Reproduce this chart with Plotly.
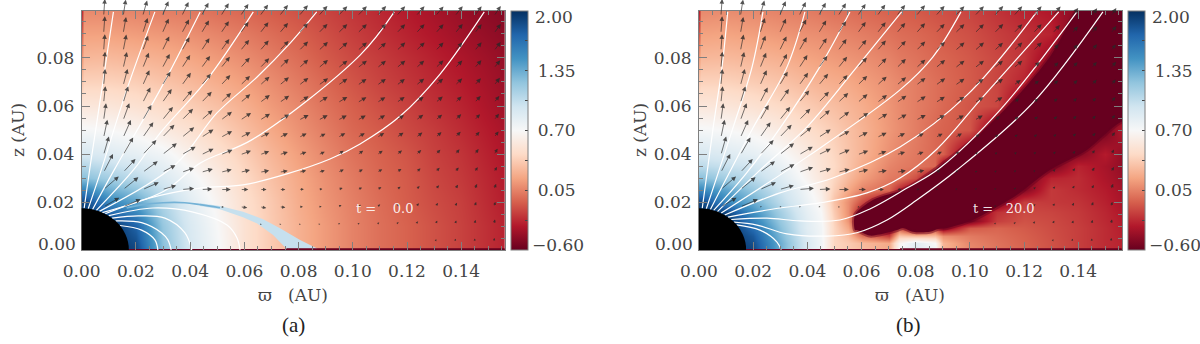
import math
import plotly.graph_objects as go

# ---- colour field, panel (a): rows go from z=0 upward
grid_x_a = [0, 0.0008, 0.01, 0.02, 0.03, 0.04, 0.05, 0.06, 0.07, 0.08, 0.09, 0.10, 0.11, 0.12, 0.13, 0.14, 0.156]
grid_z_a = [0, 0.01, 0.02, 0.03, 0.04, 0.05, 0.06, 0.07, 0.08, 0.09, 0.099]
field_a = [
    [2.0, 2.0, 2.0, 1.9, 1.25, 0.92, 0.72, 0.50, 0.36, 0.24, 0.14, 0.05, -0.02, -0.07, -0.13, -0.19, -0.30],
    [2.0, 2.0, 2.0, 1.75, 1.2, 0.9, 0.7, 0.5, 0.36, 0.24, 0.14, 0.05, -0.02, -0.07, -0.13, -0.19, -0.30],
    [1.9, 1.9, 1.55, 1.4, 1.1, 0.85, 0.66, 0.48, 0.35, 0.22, 0.12, 0.04, -0.03, -0.09, -0.15, -0.2, -0.32],
    [1.25, 1.25, 1.15, 1.05, 0.9, 0.75, 0.6, 0.44, 0.31, 0.2, 0.1, 0.02, -0.05, -0.1, -0.17, -0.22, -0.33],
    [0.92, 0.92, 0.88, 0.82, 0.75, 0.62, 0.5, 0.38, 0.26, 0.16, 0.07, -0.01, -0.07, -0.12, -0.19, -0.24, -0.35],
    [0.72, 0.72, 0.7, 0.66, 0.58, 0.5, 0.4, 0.3, 0.2, 0.11, 0.03, -0.05, -0.1, -0.16, -0.21, -0.27, -0.37],
    [0.55, 0.55, 0.54, 0.5, 0.45, 0.38, 0.31, 0.23, 0.14, 0.07, -0.01, -0.08, -0.14, -0.19, -0.25, -0.3, -0.4],
    [0.32, 0.4, 0.4, 0.38, 0.33, 0.28, 0.22, 0.16, 0.09, 0.02, -0.05, -0.12, -0.18, -0.23, -0.28, -0.33, -0.42],
    [0.1, 0.27, 0.28, 0.26, 0.23, 0.19, 0.14, 0.09, 0.03, -0.03, -0.1, -0.16, -0.21, -0.26, -0.31, -0.36, -0.44],
    [-0.1, 0.17, 0.17, 0.15, 0.13, 0.1, 0.06, 0.02, -0.03, -0.08, -0.14, -0.2, -0.25, -0.3, -0.35, -0.4, -0.47],
    [-0.3, 0.08, 0.08, 0.06, 0.04, 0.02, -0.02, -0.05, -0.09, -0.13, -0.18, -0.23, -0.28, -0.33, -0.38, -0.43, -0.5],
]

# ---- colour field, panel (b): the dark lane itself is the polygon further down
grid_x_b = [0, 0.0008, 0.01, 0.02, 0.03, 0.04, 0.045, 0.05, 0.055, 0.06, 0.07, 0.074, 0.08, 0.087, 0.09, 0.10, 0.11, 0.12, 0.13, 0.14, 0.15, 0.156]
grid_z_b = [0, 0.003, 0.006, 0.009, 0.012, 0.016, 0.02, 0.025, 0.03, 0.035, 0.04, 0.05, 0.06, 0.07, 0.08, 0.09, 0.099]
field_b = [
    [2, 2, 2, 1.9, 1.35, 0.9, 0.75, 0.42, 0.36, 0.3, 0.2, 0.7, 0.85, 0.75, 0.25, 0.08, 0, -0.06, -0.13, -0.2, -0.27, -0.3],
    [2, 2, 2, 1.85, 1.35, 0.9, 0.75, 0.42, 0.36, 0.28, 0.2, 0.65, 0.85, 0.7, 0.25, 0.06, -0.01, -0.07, -0.13, -0.2, -0.27, -0.3],
    [2, 2, 2, 1.8, 1.3, 0.88, 0.74, 0.42, 0.3, 0.0, -0.2, 0.35, 0.3, 0.3, 0.1, 0.02, -0.03, -0.08, -0.14, -0.2, -0.27, -0.31],
    [2, 2, 2, 1.7, 1.25, 0.85, 0.74, 0.42, 0.2, -0.3, -0.55, -0.1, -0.55, -0.2, -0.5, -0.1, -0.06, -0.1, -0.15, -0.2, -0.27, -0.32],
    [2, 2, 2, 1.6, 1.2, 0.85, 0.72, 0.4, 0.12, -0.55, -0.55, -0.55, -0.55, -0.55, -0.55, -0.55, -0.2, -0.13, -0.16, -0.21, -0.28, -0.33],
    [2, 2, 1.9, 1.5, 1.15, 0.82, 0.7, 0.36, 0.1, -0.4, -0.55, -0.55, -0.55, -0.55, -0.55, -0.55, -0.25, -0.16, -0.18, -0.22, -0.29, -0.35],
    [1.9, 1.9, 1.55, 1.35, 1.05, 0.78, 0.65, 0.32, 0.1, -0.15, -0.55, -0.55, -0.55, -0.55, -0.55, -0.55, -0.55, -0.2, -0.22, -0.24, -0.31, -0.37],
    [1.55, 1.55, 1.4, 1.2, 0.98, 0.74, 0.6, 0.38, 0.2, 0.05, -0.05, -0.3, -0.55, -0.55, -0.55, -0.55, -0.55, -0.5, -0.22, -0.27, -0.33, -0.39],
    [1.25, 1.25, 1.15, 1.05, 0.88, 0.66, 0.55, 0.42, 0.28, 0.16, 0.02, 0, -0.15, -0.55, -0.55, -0.55, -0.55, -0.55, -0.3, -0.27, -0.36, -0.42],
    [1.05, 1.05, 1.0, 0.95, 0.8, 0.62, 0.52, 0.44, 0.33, 0.22, 0.06, 0.03, 0, -0.05, -0.5, -0.55, -0.55, -0.55, -0.55, -0.3, -0.38, -0.45],
    [0.92, 0.92, 0.88, 0.82, 0.72, 0.58, 0.5, 0.42, 0.33, 0.25, 0.1, 0.06, 0.01, -0.05, -0.08, -0.55, -0.55, -0.55, -0.55, -0.5, -0.33, -0.45],
    [0.72, 0.72, 0.7, 0.66, 0.58, 0.47, 0.42, 0.37, 0.31, 0.25, 0.13, 0.09, 0.03, -0.05, -0.07, -0.12, -0.55, -0.55, -0.55, -0.55, -0.55, -0.34],
    [0.55, 0.55, 0.54, 0.5, 0.44, 0.37, 0.33, 0.3, 0.26, 0.22, 0.12, 0.08, 0.03, -0.02, -0.05, -0.12, -0.17, -0.55, -0.55, -0.55, -0.55, -0.55],
    [0.36, 0.4, 0.4, 0.37, 0.33, 0.27, 0.24, 0.22, 0.2, 0.16, 0.1, 0.07, 0.03, -0.02, -0.04, -0.1, -0.18, -0.3, -0.55, -0.55, -0.55, -0.55],
    [0.15, 0.27, 0.28, 0.26, 0.23, 0.18, 0.16, 0.14, 0.12, 0.1, 0.05, 0.02, -0.01, -0.05, -0.06, -0.11, -0.17, -0.24, -0.45, -0.55, -0.55, -0.55],
    [-0.1, 0.17, 0.18, 0.16, 0.13, 0.1, 0.09, 0.07, 0.05, 0.03, -0.01, -0.03, -0.05, -0.08, -0.1, -0.14, -0.2, -0.25, -0.3, -0.55, -0.55, -0.55],
    [-0.3, 0.08, 0.09, 0.08, 0.05, 0.03, 0.01, -0.01, -0.02, -0.04, -0.07, -0.08, -0.1, -0.13, -0.14, -0.18, -0.24, -0.3, -0.35, -0.5, -0.55, -0.55],
]

# dark lane of panel (b), outline (corners lie outside the frame)
lane_x = [0.0576, 0.0576, 0.0642, 0.0768, 0.0904, 0.104, 0.1173, 0.1295, 0.1395, 0.145, 0.17, 0.17, 0.1557, 0.1432, 0.1295, 0.1173, 0.101, 0.0915, 0.0882, 0.0852, 0.079, 0.0753, 0.0731, 0.0631, 0.0583, 0.0576]
lane_z = [0.0083, 0.0146, 0.0208, 0.0258, 0.0363, 0.0488, 0.0638, 0.0804, 0.0996, 0.106, 0.106, 0.058, 0.0533, 0.0417, 0.0333, 0.0229, 0.0125, 0.0092, 0.0088, 0.0076, 0.0076, 0.0092, 0.0083, 0.006, 0.0083, 0.0083]

# ---- arrows: tails sit on this grid, rows listed from the top down
arrow_x = [0.0009, 0.0081, 0.0153, 0.0225, 0.0297, 0.0369, 0.0441, 0.0513, 0.0585, 0.0657, 0.0729, 0.0801, 0.0873, 0.0945, 0.1017, 0.1089, 0.1161, 0.1233, 0.1305, 0.1377, 0.1449, 0.1521]
arrow_z = [0.0975, 0.0903, 0.0830, 0.0758, 0.0686, 0.0614, 0.0541, 0.0469, 0.0397, 0.0324, 0.0252, 0.0180, 0.0107, 0.0035]

# direction in degrees, both panels
arrow_angle = [
    [90, 86, 81, 74, 67, 64, 61, 58, 56, 54, 52, 50, 48, 46, 46, 47, 48, 49, 50, 52, 54, 56],
    [90, 86, 80, 72, 66, 62, 59, 56, 54, 52, 50, 48, 46, 44, 44, 45, 46, 47, 48, 50, 52, 54],
    [90, 86, 79, 70, 64, 60, 57, 54, 51, 49, 47, 45, 43, 41, 41, 42, 43, 44, 46, 48, 50, 53],
    [90, 85, 77, 68, 62, 57, 54, 51, 48, 46, 44, 42, 40, 38, 38, 39, 40, 42, 44, 46, 49, 52],
    [90, 85, 75, 66, 59, 54, 50, 47, 44, 42, 40, 38, 36, 35, 35, 36, 37, 39, 41, 44, 48, 52],
    [90, 84, 73, 63, 55, 50, 46, 43, 40, 37, 35, 33, 32, 31, 31, 33, 35, 37, 40, 43, 47, 52],
    [90, 82, 70, 60, 51, 45, 41, 37, 34, 32, 30, 28, 28, 28, 29, 31, 33, 36, 39, 43, 47, 52],
    [90, 78, 66, 55, 46, 39, 33, 29, 27, 26, 26, 27, 28, 30, 30, 31, 34, 37, 41, 45, 49, 53],
    [90, 74, 60, 47, 38, 30, 26, 23, 20, 20, 18, 20, 24, 35, 34, 34, 37, 41, 46, 50, 55, 60],
    [90, 63, 47, 36, 28, 19, 16, 14, 13, 10, 10, 13, 16, 24, 26, 28, 34, 40, 47, 53, 58, 62],
    [90, 41, 39, 24, 16, 5, 3, 0, 0, 0, 0, 3, 8, 18, 22, 26, 34, 42, 50, 58, 65, 70],
    [90, 30, 23, 10, 0, 0, 0, -5, -8, -10, -6, 0, 5, 25, 28, 34, 42, 50, 58, 65, 71, 75],
    [90, 0, 0, 0, 0, 0, 0, 0, 0, 0, 0, 0, 10, 25, 30, 38, 48, 58, 65, 72, 77, 80],
    [90, 0, 0, 0, 0, 0, 0, 0, 0, 0, 0, 0, 15, 30, 40, 50, 60, 70, 75, 80, 83, 85],
]
arrow_speed_a = [
    [0, 17, 16.5, 16, 16, 15.5, 15, 15, 14.5, 14, 14, 14, 13.5, 13.5, 13.5, 13.5, 13, 13, 12.5, 12.5, 12, 12],
    [0, 17, 16.5, 16, 16, 15.5, 15, 14.5, 14, 14, 13.5, 13.5, 13, 13, 13, 13, 12.5, 12.5, 12, 12, 11.5, 11.5],
    [0, 16.5, 16.5, 16, 16, 15.5, 15, 14.5, 14, 13.5, 13.5, 13, 13, 12.5, 12.5, 12, 12, 12, 11.5, 11, 11, 11],
    [0, 16.5, 16.5, 16.5, 16, 15.5, 15, 14.5, 14, 13.5, 13, 12.5, 12.5, 12, 12, 11.5, 11.5, 11, 11, 10.5, 10.5, 10],
    [0, 16.5, 17, 16.5, 16, 15.5, 15, 14, 13.5, 13, 12.5, 12, 12, 11.5, 11, 11, 10.5, 10.5, 10, 10, 9.5, 9.5],
    [0, 16.5, 17, 17, 16.5, 16, 15, 14, 13, 12.5, 12, 11.5, 11, 11, 10.5, 10, 10, 9.5, 9.5, 9, 9, 8.5],
    [0, 17, 18, 17.5, 17, 16, 15, 14, 13, 12, 11.5, 11, 10.5, 10, 9.5, 9.5, 9, 9, 8.5, 8.5, 8, 8],
    [0, 18, 19, 18.5, 17.5, 16, 14.5, 13, 11.4, 10.7, 9.5, 8.7, 8, 8.5, 8.5, 8.5, 8.5, 8, 8, 8, 7.5, 7.5],
    [0, 19, 20, 20, 18.5, 16, 13.7, 12.7, 11.4, 10, 9, 8, 7, 7, 7, 7, 7, 7, 7, 7, 7, 7],
    [0, 20.6, 18, 18.6, 15, 13, 12, 11.3, 10, 9.5, 8.5, 7.5, 6.7, 6.5, 6, 6, 6, 6, 6, 6, 6, 6],
    [0, 20, 19.5, 17.6, 14.5, 12.5, 11, 10, 8, 6.7, 6, 5, 4, 5, 5, 5, 5, 5, 5.5, 5.5, 6, 6],
    [0, 18, 19, 1.5, 1.5, 1.5, 1.5, 3, 7, 6.5, 6, 4, 3.3, 4, 4, 4, 4, 4.5, 4.5, 4.5, 5, 5],
    [0, 0, 1.5, 1.5, 1.5, 1.5, 1.5, 1.5, 1.5, 2, 2, 2, 2, 2.5, 2.5, 3, 3, 3.5, 4, 4, 4.5, 5],
    [0, 0, 0, 1.5, 1.5, 1.5, 1.5, 1.5, 1.5, 1.5, 1.5, 1.5, 1.5, 1.5, 1.5, 1.5, 2, 2, 2.5, 3, 3, 3.5],
]
arrow_speed_b = [
    [0, 17, 16.5, 16, 16, 15.5, 15, 15, 14.5, 14, 14, 14, 13.5, 13.5, 13.5, 13.5, 13, 13, 12.5, 10, 9.5, 9.5],
    [0, 17, 16.5, 16, 16, 15.5, 15, 14.5, 14, 14, 13.5, 13.5, 13, 13, 13, 13, 12.5, 12.5, 11, 9, 9, 9],
    [0, 16.5, 16.5, 16, 16, 15.5, 15, 14.5, 14, 13.5, 13.5, 13, 13, 12.5, 12.5, 12, 12, 12, 9, 8.5, 8.5, 8],
    [0, 16.5, 16.5, 16.5, 16, 15.5, 15, 14.5, 14, 13.5, 13, 12.5, 12.5, 12, 12, 11.5, 11.5, 9, 8, 8, 8, 8],
    [0, 16.5, 17, 16.5, 16, 15.5, 15, 14, 13.5, 13, 12.5, 12, 12, 11.5, 11, 11, 9, 7.5, 7.5, 7.5, 7.5, 7.5],
    [0, 16.5, 17, 17, 16.5, 16, 15, 14, 13, 12.5, 12, 11.5, 11, 11, 10.5, 10, 7, 6.5, 6.5, 6.5, 6.5, 7],
    [0, 17, 18, 17.5, 17, 16, 15, 14, 13, 12, 11.5, 11, 10.5, 10, 9.5, 7, 6, 6, 6, 6, 6, 6.5],
    [0, 18, 19, 18.5, 17.5, 16, 14.5, 13, 11.4, 10.7, 9.5, 8.7, 8, 8, 6, 5, 5, 5, 5, 5.5, 6, 6.5],
    [0, 19, 20, 20, 18.5, 16, 13.7, 12.7, 11.4, 10, 9, 8, 7, 5, 4, 4, 4, 4, 4.5, 5, 5.5, 6],
    [0, 20.6, 18, 18.6, 17, 15, 13, 12, 11, 10, 9.5, 8.5, 5, 3.5, 3, 3, 3, 3, 4, 5, 5.5, 6],
    [0, 20, 19.5, 17.6, 15, 15, 12, 11, 8.5, 7, 5, 3.5, 2.5, 2.5, 2.5, 2.5, 3, 3.5, 4, 4.5, 5, 6],
    [0, 18, 19, 2, 2, 2, 2, 2, 2, 1.5, 1.5, 1.5, 1.5, 2, 2, 2.5, 3, 3.5, 4, 4.5, 5, 5],
    [0, 0, 1.5, 1.5, 1.5, 1.5, 1.5, 1.5, 1.5, 1.5, 1.5, 1.5, 1.5, 2, 2, 2.5, 3, 3.5, 4, 4, 4.5, 5],
    [0, 0, 0, 1.5, 1.5, 1.5, 1.5, 1.5, 1.5, 1.5, 1.5, 1.5, 1.5, 1.5, 1.5, 1.5, 2, 2, 2.5, 3, 3, 3.5],
]

# the two arrows just under the frame of panel (a)
stray_tail_x = [0.0024, 0.0092]
stray_tail_z = [-0.0007, -0.0007]
stray_tip_x = [-0.0003, 0.0064]
stray_tip_z = [-0.0018, -0.0018]

# ---- white field lines, (x, z) pairs
lines_a = [
    ([0.0009, 0.003, 0.0074, 0.0117], [0.0174, 0.034, 0.0667, 0.0992]),
    ([0.0024, 0.0074, 0.0166, 0.027], [0.0172, 0.034, 0.0667, 0.0992]),
    ([0.004, 0.0123, 0.0289, 0.0437], [0.0169, 0.034, 0.0667, 0.0992]),
    ([0.0054, 0.0197, 0.0289, 0.0461, 0.0633], [0.0165, 0.0342, 0.0487, 0.0708, 0.0992]),
    ([0.0065, 0.0344, 0.0499, 0.0647, 0.0769, 0.0867], [0.0161, 0.0354, 0.0571, 0.0721, 0.0862, 0.0992]),
    ([0.0076, 0.0303, 0.0437, 0.0632, 0.1027, 0.1153], [0.0156, 0.0245, 0.0362, 0.0462, 0.0812, 0.0992]),
    ([0.0087, 0.0252, 0.0437, 0.0595, 0.0757, 0.0916, 0.1027, 0.1175, 0.1322, 0.1485], [0.0151, 0.0217, 0.0258, 0.0271, 0.0317, 0.0379, 0.0442, 0.0558, 0.0733, 0.0992]),
    ([0.01, 0.0263, 0.0411, 0.0536, 0.0573, 0.0584], [0.0143, 0.0175, 0.0158, 0.0104, 0.005, 0]),
    ([0.0112, 0.0208, 0.0307, 0.0381, 0.0406], [0.0133, 0.0142, 0.0133, 0.0071, 0]),
    ([0.0125, 0.0221, 0.0295, 0.0318, 0.033], [0.0121, 0.0114, 0.0071, 0.0042, 0]),
    ([0.0141, 0.0221, 0.027, 0.0281], [0.0102, 0.0083, 0.0042, 0]),
]
lines_b = [
    ([0.0012, 0.0052, 0.0085, 0.0106], [0.0174, 0.0508, 0.0763, 0.0992]),
    ([0.0027, 0.0125, 0.0196, 0.0236], [0.0172, 0.0508, 0.0763, 0.0992]),
    ([0.0042, 0.0199, 0.0325, 0.0391], [0.0169, 0.0508, 0.0763, 0.0992]),
    ([0.0054, 0.017, 0.0299, 0.0446, 0.0557], [0.0165, 0.0313, 0.0508, 0.0763, 0.0992]),
    ([0.0068, 0.0225, 0.0399, 0.0583, 0.0748], [0.016, 0.0333, 0.0513, 0.0763, 0.0992]),
    ([0.0082, 0.0399, 0.0742, 0.0863, 0.0967], [0.0154, 0.0388, 0.0667, 0.0804, 0.0992]),
    ([0.0095, 0.0299, 0.0494, 0.0742, 0.0989, 0.1247], [0.0146, 0.0238, 0.03, 0.0429, 0.0645, 0.0992]),
    ([0.0107, 0.0299, 0.0446, 0.062, 0.0742, 0.0878, 0.1048, 0.1328], [0.0137, 0.0175, 0.0196, 0.0238, 0.03, 0.042, 0.0638, 0.0992]),
    ([0.0119, 0.0251, 0.0373, 0.052, 0.0631, 0.0768, 0.0889, 0.1111, 0.1395], [0.0127, 0.0133, 0.0121, 0.0125, 0.0171, 0.0258, 0.0342, 0.0583, 0.0992]),
    ([0.0129, 0.0214, 0.0325, 0.0472, 0.0583, 0.0694, 0.0804, 0.0952, 0.1232, 0.1491], [0.0116, 0.0104, 0.0067, 0.0058, 0.0072, 0.0125, 0.0208, 0.0333, 0.0613, 0.0992]),
    ([0.0139, 0.0225, 0.0288, 0.0303], [0.0105, 0.0083, 0.0033, 0]),
]

# ---- disc surface in panel (a)
band_thin_x = [0.0166, 0.022, 0.030, 0.038, 0.0437, 0.051]
band_thin_z = [0.0175, 0.0188, 0.0197, 0.0197, 0.0189, 0.0176]
band_x = [0.04365, 0.05104, 0.05952, 0.0669, 0.07317, 0.08055, 0.0867, 0.0875, 0.0752, 0.075, 0.0706, 0.0646, 0.0595, 0.051, 0.04365]
band_z = [0.01946, 0.01833, 0.01596, 0.01279, 0.00904, 0.00417, 0.0007, 0, 0, 0.0011, 0.00625, 0.0111, 0.0136, 0.017, 0.0183]

midplane_x = [0, 0.156]
midplane_thick_x_a = [0.0755, 0.156]
midplane_thick_x_b = [0.0742, 0.156]

star_radius = 0.0174

x_ticks = [0.0, 0.02, 0.04, 0.06, 0.08, 0.10, 0.12, 0.14]
x_labels = ["0.00", "0.02", "0.04", "0.06", "0.08", "0.10", "0.12", "0.14"]
z_ticks = [0.0, 0.02, 0.04, 0.06, 0.08]
z_labels = ["", "0.02", "0.04", "0.06", "0.08"]
cbar_ticks = [-0.6, -0.275, 0.05, 0.375, 0.7, 1.025, 1.35, 1.675, 2.0]
cbar_labels = ["", "", "\u00a00.05", "", "\u00a00.70", "", "\u00a01.35", "", ""]

rdbu = ["#67001f", "#b2182b", "#d6604d", "#f4a582", "#fddbc7", "#f7f7f7",
        "#d1e5f0", "#92c5de", "#4393c3", "#2166ac", "#053061"]

W, H = 1200, 344
FRAME = "#7f7f7f"
INK = "#444444"
SERIF = "DejaVu Serif"
PX_PER_X = 2710.0
PX_PER_Z = 2400.0

fig = go.Figure()


def add_panel(xaxis, yaxis, gx, gz, field, bar_left):
    fig.add_trace(go.Heatmap(
        x=gx, y=gz, z=field, xaxis=xaxis, yaxis=yaxis, zmin=-0.6, zmax=2.0,
        zsmooth="best", colorscale=rdbu, hoverinfo="skip",
        colorbar=dict(
            x=bar_left / W, xanchor="left", xpad=0, ypad=0,
            y=(H - 250) / H, yanchor="bottom", len=239 / H,
            thickness=17, thicknessmode="pixels",
            outlinecolor=FRAME, outlinewidth=1,
            tickmode="array", tickvals=cbar_ticks, ticktext=cbar_labels,
            ticks="inside", ticklen=3, tickcolor=INK,
            tickfont=dict(family=SERIF, size=17, color=INK),
        ),
    ))


def add_lines(xaxis, yaxis, lines):
    for lx, lz in lines:
        fig.add_trace(go.Scatter(
            x=lx, y=lz, xaxis=xaxis, yaxis=yaxis, mode="lines", hoverinfo="skip",
            line=dict(color="white", width=1.2, shape="spline", smoothing=1.0),
            showlegend=False,
        ))


def add_midplane(xaxis, yaxis, thick_x):
    for mx, w in ((midplane_x, 2), (thick_x, 3.5)):
        fig.add_trace(go.Scatter(
            x=mx, y=[0] * len(mx), xaxis=xaxis, yaxis=yaxis, mode="lines",
            line=dict(color="#67001f", width=w), hoverinfo="skip", showlegend=False,
        ))


add_panel("x", "y", grid_x_a, grid_z_a, field_a, 510.5)
fig.add_trace(go.Scatter(
    x=band_x, y=band_z, xaxis="x", yaxis="y", mode="lines", fill="toself",
    fillcolor="#c6e0ee", line=dict(width=0), hoverinfo="skip", showlegend=False,
))
fig.add_trace(go.Scatter(
    x=band_thin_x, y=band_thin_z, xaxis="x", yaxis="y", mode="lines",
    line=dict(color="#74b2d6", width=1.6, shape="spline"), hoverinfo="skip", showlegend=False,
))
add_midplane("x", "y", midplane_thick_x_a)
add_lines("x", "y", lines_a)

add_panel("x2", "y2", grid_x_b, grid_z_b, field_b, 1127.5)
fig.add_trace(go.Scatter(
    x=lane_x, y=lane_z, xaxis="x2", yaxis="y2", mode="lines", fill="toself",
    fillcolor="#67001f", line=dict(color="rgba(103,0,31,0.45)", width=4, shape="spline", smoothing=0.8),
    hoverinfo="skip", showlegend=False,
))
add_midplane("x2", "y2", midplane_thick_x_b)
add_lines("x2", "y2", lines_b)

annotations = []
shapes = []


def arrow(x_ref, y_ref, tail_x, tail_z, tip_x, tip_z, size):
    annotations.append(dict(
        xref=x_ref, yref=y_ref, axref=x_ref, ayref=y_ref,
        x=tip_x, y=tip_z, ax=tail_x, ay=tail_z, text="", showarrow=True,
        arrowhead=2, arrowsize=size, arrowwidth=0.8, arrowcolor="rgba(40,40,40,0.8)",
    ))


def add_arrows(x_ref, y_ref, speed):
    for j, zt in enumerate(arrow_z):
        for i, xt in enumerate(arrow_x):
            s = speed[j][i]
            if s <= 0:
                continue
            a = math.radians(arrow_angle[j][i])
            arrow(x_ref, y_ref, xt, zt,
                  xt + s * math.cos(a) / PX_PER_X,
                  zt + s * math.sin(a) / PX_PER_Z,
                  min(1.15, 0.2 + s * 0.1))


add_arrows("x", "y", arrow_speed_a)
add_arrows("x2", "y2", arrow_speed_b)
for k in range(len(stray_tail_x)):
    arrow("x", "y", stray_tail_x[k], stray_tail_z[k], stray_tip_x[k], stray_tip_z[k], 0.8)


def text(x, y, s, size, color=INK, family=SERIF, xref="paper", yref="paper", **kw):
    annotations.append(dict(xref=xref, yref=yref, x=x, y=y, text=s, showarrow=False, yanchor="middle",
                            font=dict(family=family, size=size, color=color), **kw))


for x_ref, y_ref, bar_px, plot_mid, cap_mid, cap, stamp, y_title_px in (
    ("x", "y", 510.5, 293, 293, "(a)", "t\u00a0=\u00a0\u00a0\u00a0\u00a00.0", 18),
    ("x2", "y2", 1127.5, 910, 909, "(b)", "t\u00a0=\u00a0\u00a0\u00a020.0", 640),
):
    shapes.append(dict(type="circle", xref=x_ref, yref=y_ref,
                       x0=-star_radius, x1=star_radius, y0=-star_radius, y1=star_radius,
                       fillcolor="black", line=dict(width=0), layer="above"))
    text(0.1005, 0.0171, stamp, 13, color="rgba(255,255,255,0.9)", xref=x_ref, yref=y_ref, xanchor="left")
    # end labels sit inside the frame height, as in the figure
    text(0, 0, "0.00", 17, xref=x_ref, yref=y_ref, xanchor="right", xshift=-4, yshift=6)
    text((bar_px + 22) / W, 1 - 17 / H, "2.00", 17, xanchor="left")
    text((bar_px + 19) / W, 1 - 245 / H, "\u22120.60", 17, xanchor="left")
    text(plot_mid / W, 1 - 295 / H, "\u03d6\u00a0\u00a0\u00a0(AU)", 17, xanchor="center")
    text(cap_mid / W, 1 - 325 / H, cap, 21, color="#222222", family="Liberation Serif", xanchor="center")
    text(y_title_px / W, 1 - 130 / H, "z\u00a0(AU)", 17, xanchor="center", textangle=-90)

axis_font = dict(family=SERIF, size=17, color=INK)
common_x = dict(range=[0, 0.15615], tickmode="array", tickvals=x_ticks, ticktext=x_labels,
                ticks="inside", ticklen=8, tickcolor=FRAME, tickfont=axis_font,
                showline=True, linecolor=FRAME, linewidth=1, mirror="ticks",
                showgrid=False, zeroline=False, ticklabelstandoff=6,
                minor=dict(dtick=0.005, tick0=0, ticks="inside", ticklen=4, tickcolor=FRAME, showgrid=False))
common_y = dict(range=[0, 0.09958], tickmode="array", tickvals=z_ticks, ticktext=z_labels,
                ticks="inside", ticklen=8, tickcolor=FRAME, tickfont=axis_font,
                showline=True, linecolor=FRAME, linewidth=1, mirror="ticks",
                showgrid=False, zeroline=False, ticklabelstandoff=3,
                minor=dict(dtick=0.005, tick0=0, ticks="inside", ticklen=4, tickcolor=FRAME, showgrid=False))
dom_y = [1 - 250 / H, 1 - 11 / H]

fig.update_layout(
    width=W, height=H, margin=dict(l=0, r=0, t=0, b=0, autoexpand=False),
    paper_bgcolor="white", plot_bgcolor="white", showlegend=False,
    xaxis=dict(domain=[81.7 / W, 505 / W], anchor="y", **common_x),
    yaxis=dict(domain=dom_y, anchor="x", **common_y),
    xaxis2=dict(domain=[699 / W, 1122 / W], anchor="y2", **common_x),
    yaxis2=dict(domain=dom_y, anchor="x2", **common_y),
    annotations=annotations, shapes=shapes,
)

# the page's default body margin would push the figure 8px off
fig.write_html("out.html", config=dict(displayModeBar=False),
               post_script="document.body.style.margin = '0';")
